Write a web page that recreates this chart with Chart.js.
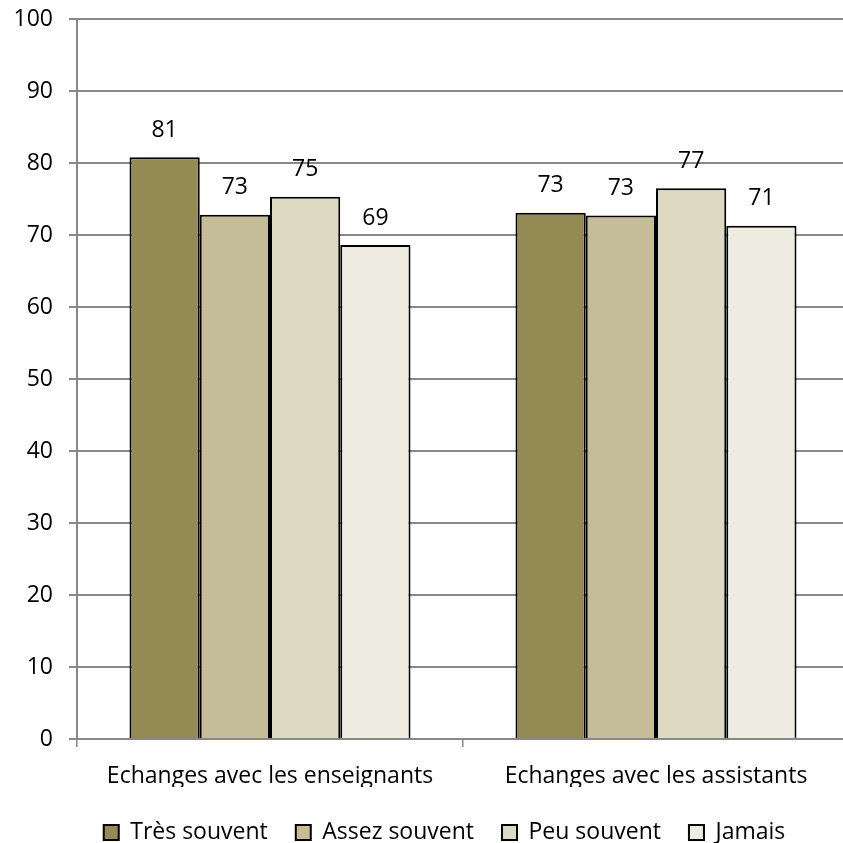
<!DOCTYPE html>
<html lang="fr">
<head>
    <meta charset="UTF-8">
    <title>Echanges</title>
    <script src="https://cdn.jsdelivr.net/npm/chart.js"></script>
    <style>
        body { margin: 0; overflow: hidden; background: #fff; }
        #wrap { position: absolute; left: 0; top: 0; width: 849px; height: 843px; }
    </style>
</head>
<body>
    <div id="wrap"><canvas id="chart"></canvas></div>

    <script>
        const categories = ['Echanges avec les enseignants', 'Echanges avec les assistants'];
        const seriesNames = ['Très souvent', 'Assez souvent', 'Peu souvent', 'Jamais'];
        const tresSouvent = [80.8, 73.1];
        const assezSouvent = [72.8, 72.7];
        const peuSouvent = [75.3, 76.5];
        const jamais = [68.6, 71.3];
        const colors = ['#948A54', '#C4BD97', '#DDD9C3', '#EEECE1'];

        const FONT = '"Open Sans", Lato, sans-serif';

        // draw rounded value above each bar
        const valueLabels = {
            id: 'valueLabels',
            afterDatasetsDraw(chart) {
                const ctx = chart.ctx;
                ctx.save();
                ctx.font = '23px ' + FONT;
                ctx.fillStyle = '#000';
                ctx.textAlign = 'center';
                ctx.textBaseline = 'middle';
                chart.data.datasets.forEach((ds, i) => {
                    chart.getDatasetMeta(i).data.forEach((bar, j) => {
                        ctx.fillText(Math.round(ds.data[j]), bar.x, bar.y - 27);
                    });
                });
                ctx.restore();
            }
        };

        // legend padding is big for the spacing between items, keep its box short
        // and nudge it a bit right/down like in the original
        const legendTweak = {
            id: 'legendTweak',
            beforeLayout(chart) {
                const lg = chart.legend;
                if (lg && !lg._patched) {
                    const fit = lg.fit;
                    lg.fit = function () { fit.call(this); this.height = 56; };
                    const draw = lg.draw;
                    lg.draw = function () {
                        const ctx = this.ctx;
                        ctx.save();
                        ctx.translate(20, 6);
                        draw.call(this);
                        ctx.restore();
                    };
                    lg._patched = true;
                }
            }
        };

        const allSeries = [tresSouvent, assezSouvent, peuSouvent, jamais];
        const datasets = allSeries.map((vals, i) => ({
            label: seriesNames[i],
            data: vals,
            backgroundColor: colors[i],
            borderColor: '#000',
            borderWidth: 2,
            categoryPercentage: 0.728,
            barPercentage: 1
        }));

        new Chart(document.getElementById('chart'), {
            type: 'bar',
            data: { labels: categories, datasets },
            plugins: [valueLabels, legendTweak],
            options: {
                responsive: true,
                maintainAspectRatio: false,
                animation: false,
                layout: { padding: { top: 19, bottom: 0, left: 0, right: 0 } },
                plugins: {
                    tooltip: { enabled: false },
                    legend: {
                        position: 'bottom',
                        labels: {
                            boxWidth: 15,
                            boxHeight: 15,
                            padding: 28,
                            color: '#000',
                            font: { family: FONT, size: 23 }
                        }
                    }
                },
                scales: {
                    x: {
                        grid: { drawOnChartArea: false, color: '#888', lineWidth: 1.5, tickLength: 8 },
                        border: { color: '#888', width: 2 },
                        ticks: { color: '#000', padding: 16, font: { family: FONT, size: 23 } },
                        afterFit(scale) { scale.height = 48; }
                    },
                    y: {
                        min: 0,
                        max: 100,
                        ticks: { stepSize: 10, color: '#000', padding: 16, font: { family: FONT, size: 23 } },
                        grid: { color: '#888', lineWidth: 2, tickLength: 8 },
                        border: { color: '#888', width: 2 },
                        afterFit(scale) {
                            scale.width = 77;
                            scale.paddingTop = 12;
                            scale.paddingBottom = 12;
                        }
                    }
                }
            }
        });
    </script>
</body>
</html>
